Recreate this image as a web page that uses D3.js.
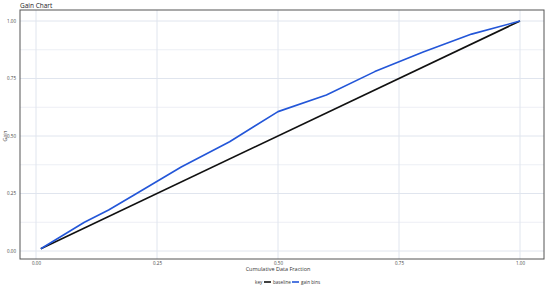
<!DOCTYPE html>
<html>
<head>
<meta charset="utf-8">
<script src="https://cdn.jsdelivr.net/npm/d3@7"></script>
<style>
  body { margin: 0; background: #fff; }
  text { font-family: "Open Sans", "DejaVu Sans", sans-serif; }
</style>
</head>
<body>
<div id="chart"></div>
<script>
// data
const fractions = [0.01, 0.1, 0.15, 0.2, 0.3, 0.4, 0.5, 0.6, 0.7, 0.8, 0.9, 1.0];
const gainValues = [0.01, 0.125, 0.178, 0.24, 0.365, 0.475, 0.606, 0.678, 0.78, 0.865, 0.943, 1.0];
const baselineX = [0.01, 1.0];
const baselineY = [0.01, 1.0];
const tickValues = [0, 0.25, 0.5, 0.75, 1];
const minorTicks = [0.125, 0.375, 0.625, 0.875];

const width = 550, height = 293;
const panel = {left: 20, right: 544, top: 10, bottom: 259};

const svg = d3.select("#chart").append("svg")
    .attr("width", width)
    .attr("height", height);

// scales: 0 -> 36, 1 -> 520 horizontally, 0 -> 251, 1 -> 21 vertically
const xScale = d3.scaleLinear().domain([0, 1]).range([36, 520]);
const yScale = d3.scaleLinear().domain([0, 1]).range([251, 21]);

// grid
svg.append("g").selectAll("line.minor")
    .data(minorTicks)
    .enter().append("line")
    .attr("x1", panel.left).attr("x2", panel.right)
    .attr("y1", d => yScale(d)).attr("y2", d => yScale(d))
    .attr("stroke", "#e8ebf2").attr("stroke-width", 0.8);

svg.append("g").selectAll("line.hmajor")
    .data(tickValues)
    .enter().append("line")
    .attr("x1", panel.left).attr("x2", panel.right)
    .attr("y1", d => yScale(d)).attr("y2", d => yScale(d))
    .attr("stroke", "#e0e5ee").attr("stroke-width", 1);

svg.append("g").selectAll("line.vmajor")
    .data(tickValues)
    .enter().append("line")
    .attr("y1", panel.top).attr("y2", panel.bottom)
    .attr("x1", d => xScale(d)).attr("x2", d => xScale(d))
    .attr("stroke", "#e0e5ee").attr("stroke-width", 1);

// panel border
svg.append("rect")
    .attr("x", panel.left).attr("y", panel.top)
    .attr("width", panel.right - panel.left)
    .attr("height", panel.bottom - panel.top)
    .attr("fill", "none")
    .attr("stroke", "#555").attr("stroke-width", 1);

// axes (labels only)
svg.append("g")
    .attr("transform", `translate(0,${panel.bottom})`)
    .call(d3.axisBottom(xScale).tickValues(tickValues).tickFormat(d3.format(".2f")).tickSize(0).tickPadding(3))
    .call(g => g.select(".domain").remove())
    .call(g => g.selectAll("text").attr("font-size", 4.5).attr("fill", "#444")
        .style("font-family", "'Open Sans', 'DejaVu Sans', sans-serif"));

svg.append("g")
    .attr("transform", `translate(${panel.left},0)`)
    .call(d3.axisLeft(yScale).tickValues(tickValues).tickFormat(d3.format(".2f")).tickSize(0).tickPadding(4))
    .call(g => g.select(".domain").remove())
    .call(g => g.selectAll("text").attr("font-size", 4.5).attr("fill", "#444")
        .style("font-family", "'Open Sans', 'DejaVu Sans', sans-serif"));

// lines
const line = d3.line().x(d => xScale(d[0])).y(d => yScale(d[1]));

svg.append("path")
    .datum(baselineX.map((x, i) => [x, baselineY[i]]))
    .attr("d", line)
    .attr("fill", "none")
    .attr("stroke", "#111")
    .attr("stroke-width", 1.6);

svg.append("path")
    .datum(fractions.map((x, i) => [x, gainValues[i]]))
    .attr("d", line)
    .attr("fill", "none")
    .attr("stroke", "#2356d8")
    .attr("stroke-width", 1.6)
    .attr("stroke-linejoin", "round");

// title and axis titles
svg.append("text")
    .attr("x", 20).attr("y", 8)
    .attr("font-size", 6.5)
    .attr("fill", "#222")
    .text("Gain Chart");

svg.append("text")
    .attr("x", xScale(0.5)).attr("y", 271)
    .attr("text-anchor", "middle")
    .attr("font-size", 5.5)
    .attr("fill", "#333")
    .text("Cumulative Data Fraction");

svg.append("text")
    .attr("transform", `translate(7,${yScale(0.5)}) rotate(-90)`)
    .attr("text-anchor", "middle")
    .attr("font-size", 5)
    .attr("fill", "#333")
    .text("Gain");

// legend
const legend = svg.append("g").attr("transform", "translate(255,282)");
legend.append("text").attr("x", 0).attr("y", 1.7).attr("font-size", 4.6).attr("fill", "#333").text("key");
legend.append("line").attr("x1", 9).attr("x2", 16).attr("y1", 0).attr("y2", 0)
    .attr("stroke", "#111").attr("stroke-width", 1.6);
legend.append("text").attr("x", 18).attr("y", 1.7).attr("font-size", 4.6).attr("fill", "#333").text("baseline");
legend.append("line").attr("x1", 37).attr("x2", 44).attr("y1", 0).attr("y2", 0)
    .attr("stroke", "#2356d8").attr("stroke-width", 1.6);
legend.append("text").attr("x", 46).attr("y", 1.7).attr("font-size", 4.6).attr("fill", "#333").text("gain bins");
</script>
</body>
</html>
